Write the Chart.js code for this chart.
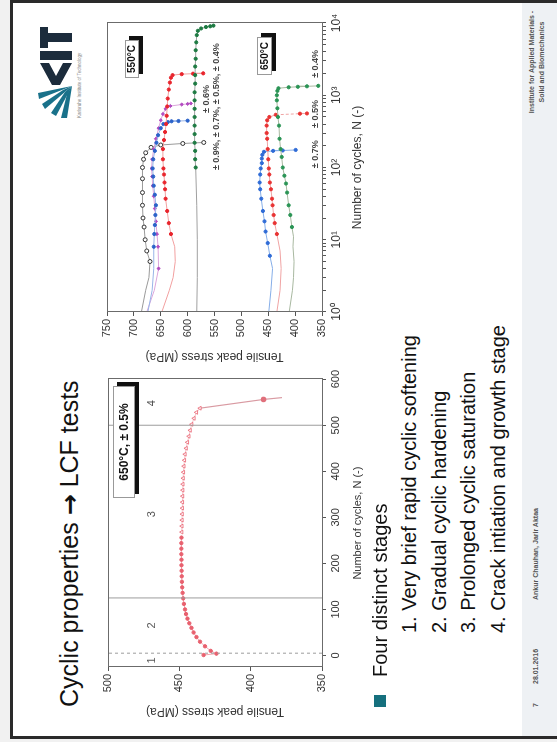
<!DOCTYPE html>
<html>
<head>
<meta charset="utf-8">
<title>Cyclic properties - LCF tests</title>
<script src="https://cdn.jsdelivr.net/npm/chart.js@4.4.1/dist/chart.umd.min.js"></script>
<style>
  html, body { margin: 0; padding: 0; }
  body { width: 557px; height: 742px; overflow: hidden; background: #f1f1f1; position: relative;
         font-family: "Liberation Sans", Arial, sans-serif; }
  /* the slide is built in landscape and turned a quarter turn */
  #slide { position: absolute; left: 0; top: 0; width: 742px; height: 557px;
           transform-origin: 0 0; transform: translate(0, 742px) rotate(-90deg); background: #f1f1f1; }
  #frame { position: absolute; left: 3px; top: 10px; width: 733px; height: 560px;
           border: 3px solid #2a2a2a; border-bottom: none; background: #fff; }
  #footer { position: absolute; left: 6px; top: 522px; width: 733px; height: 40px; background: #eef1f4; }
  canvas { position: absolute; }
  .title { position: absolute; left: 35px; top: 57px; font-size: 25px; line-height: 25px; color: #111; white-space: nowrap; }
  .title .arr { font-family: "DejaVu Sans", sans-serif; font-weight: bold; }
  .bullet { position: absolute; left: 35px; top: 374px; width: 12px; height: 12px; background: #16707e; }
  .lead { position: absolute; left: 65px; top: 370px; font-size: 20px; line-height: 20px; color: #111; white-space: nowrap; }
  .items { position: absolute; left: 109px; top: 395px; font-size: 20px; line-height: 29.7px; color: #111; white-space: nowrap; }
  .box { position: absolute; background: #fff; border: 1px solid #999; box-shadow: 4px 4px 0 #111;
         font-weight: bold; color: #111; text-align: center; white-space: nowrap; }
  .foot { position: absolute; font-size: 7px; font-weight: bold; color: #555; white-space: nowrap; }
</style>
</head>
<body>
<div id="slide">
  <div id="frame"></div>
  <div id="footer"></div>

  <div class="title">Cyclic properties <span class="arr">&rarr;</span> LCF tests</div>

  <svg style="position:absolute;left:620px;top:36px" width="100" height="50" viewBox="0 0 100 50">
    <g fill="#19718a">
      <polygon points="36,36 4,31 4,25 28,31"/>
      <polygon points="36,36 6,20 9,15 30,29"/>
      <polygon points="36,36 13,9 18,6 32,27"/>
      <polygon points="36,36 23,3 29,2 34,26"/>
    </g>
    <g fill="#1c2c3c">
      <polygon points="59,4 59,13 46,20 59,27 59,36 37,24 37,16"/>
      <rect x="62" y="4" width="9" height="32"/>
      <rect x="74" y="4" width="21" height="8"/>
      <rect x="80" y="4" width="9" height="32"/>
    </g>
    <text x="4" y="45" font-size="4.5" fill="#888" font-family="Liberation Sans, Arial">Karlsruhe Institute of Technology</text>
  </svg>

  <canvas id="chartLeft" width="360" height="292" style="left:15px;top:95px"></canvas>
  <canvas id="chartRight" width="368" height="292" style="left:370px;top:95px"></canvas>

  <div class="box" style="left:244px;top:113px;width:110px;height:20px;line-height:20px;font-size:12px">650°C, ± 0.5%</div>
  <div class="box" style="left:664px;top:125px;width:36px;height:12px;line-height:12px;font-size:10px">550°C</div>
  <div class="box" style="left:667px;top:257px;width:36px;height:13px;line-height:13px;font-size:10px">650°C</div>

  <div class="bullet"></div>
  <div class="lead">Four distinct stages</div>
  <div class="items">
    1. Very brief rapid cyclic softening<br>
    2. Gradual cyclic hardening<br>
    3. Prolonged cyclic saturation<br>
    4. Crack intiation and growth stage
  </div>

  <div class="foot" style="left:35px;top:532px">7</div>
  <div class="foot" style="left:58px;top:532px">28.01.2016</div>
  <div class="foot" style="left:142px;top:532px">Ankur Chauhan, Jarir Aktaa</div>
  <div class="foot" style="left:628px;top:527px;width:104px;text-align:center;line-height:10px">Institute for Applied Materials -<br>Solid and Biomechanics</div>
</div>

<script>
// ---- left chart: 650 °C, ± 0.5 % ----
const cycleTicks = [0, 100, 200, 300, 400, 500, 600];
const stressTicksLeft = [350, 400, 450, 500];
const stageBounds = [5, 125, 500];
const stageText = ['1', '2', '3', '4'];
const stageN = [-11, 65, 307, 548];
const stageS = [469, 469, 469, 469];

// filled circles (stages 1 and 2)
const cyclesA = [1, 4, 10, 20, 30, 40, 50, 60, 70, 80, 90, 100, 112, 124, 136, 148, 160, 172, 184, 196, 208, 220, 232, 244, 256];
const stressA = [433, 424, 428, 432, 435.5, 438, 440, 441.5, 443, 444.3, 445.3, 446, 446.8, 447.3, 447.7, 448, 448.2, 448.3, 448.4, 448.5, 448.5, 448.6, 448.6, 448.6, 448.5];
// open triangles (stage 3)
const cyclesB = [268, 281, 294, 307, 320, 333, 346, 359, 372, 385, 398, 411, 424, 437, 450, 463, 476, 489, 502, 515, 528, 537];
const stressB = [448.3, 448.2, 448.1, 448, 447.9, 447.8, 447.7, 447.6, 447.5, 447.3, 447.1, 446.8, 446.4, 446, 445.2, 444.3, 443.3, 442.4, 441.3, 439.7, 438, 435.5];
// failure (stage 4)
const cyclesEnd = [537, 556, 560];
const stressEnd = [435.5, 391, 378];

// ---- right chart: 550 °C and 650 °C ----
const logTicks = [1, 10, 100, 1000, 10000];
const logMinor = [2, 3, 4, 5, 6, 7, 8, 9, 20, 30, 40, 50, 60, 70, 80, 90, 200, 300, 400, 500, 600, 700, 800, 900, 2000, 3000, 4000, 5000, 6000, 7000, 8000, 9000];
const stressTicksRight = [350, 400, 450, 500, 550, 600, 650, 700, 750];

const n550a = [1, 2, 3, 5, 7, 10, 15, 20, 30, 45, 70, 100, 130, 160, 190, 205, 215, 222];            // ± 0.9 %
const s550a = [686, 678, 672, 670, 676, 679, 681, 683, 684, 684, 684, 684, 682, 678, 668, 650, 609, 570];
const n550b = [1, 2, 4, 8, 12, 16, 22, 30, 42, 56, 75, 97, 130, 170, 220, 280, 350, 400, 425, 436, 440, 445]; // ± 0.7 %
const s550b = [674, 666, 663, 663, 662, 661, 660, 659, 661, 663, 664, 665, 664, 661, 658, 655, 650, 645, 637, 630, 617, 600];
const n550c = [1, 2, 4, 8, 12, 18, 27, 40, 56, 75, 97, 130, 180, 250, 350, 450, 550, 650, 710, 745, 760, 770]; // ± 0.6 %
const s550c = [676, 662, 654, 655, 657, 659, 661, 663, 665, 666, 667, 666, 663, 659, 654, 650, 646, 641, 632, 611, 600, 594];
const n550d = [1, 2, 3, 5, 8, 12, 17, 25, 37, 50, 62, 80, 97, 130, 180, 240, 310, 400, 520, 700, 900, 1200, 1500, 1750, 1900, 1960, 1990, 2010]; // ± 0.5 %
const s550d = [648, 634, 627, 623, 624, 631, 635, 638, 641, 642, 643, 644, 645, 646, 646, 644, 642, 640, 639, 638, 637, 635, 633, 631, 628, 611, 590, 571];
const n550e = [1, 3, 10, 30, 100, 130, 170, 220, 290, 380, 500, 650, 850, 1100, 1450, 1900, 2500, 3200, 4200, 5400, 6800, 7800, 8400, 8800, 9000, 9200]; // ± 0.4 %
const s550e = [583, 582, 582, 583, 585, 586, 586, 587, 587, 587, 587, 587, 587, 587, 586, 586, 586, 585, 585, 584, 583, 581, 575, 566, 558, 552];

const n650a = [1, 2, 4, 6, 9, 13, 18, 25, 37, 50, 62, 80, 97, 115, 133, 150, 165, 170, 172, 175]; // ± 0.7 %
const s650a = [449, 445, 442, 447, 451, 455, 457, 460, 463, 465, 466, 465, 464, 462, 462, 461, 458, 441, 423, 399];
const n650b = [1, 2, 4, 7, 12, 17, 22, 30, 37, 50, 62, 80, 97, 130, 180, 250, 300, 380, 450, 500, 537, 556, 560]; // ± 0.5 %
const s650b = [434, 428, 426, 428, 434, 438, 440, 442, 443, 445, 447, 448, 449, 450, 451, 452, 453, 453, 452, 448, 436, 391, 378];
const n650c = [1, 2, 3, 5, 8, 11, 15, 22, 30, 45, 60, 77, 100, 140, 180, 250, 380, 500, 660, 850, 1000, 1150, 1250, 1290, 1310, 1330, 1350]; // ± 0.4 %
const s650c = [411, 405, 403, 402, 404, 403, 406, 409, 412, 415, 417, 420, 423, 425, 427, 429, 430, 432, 433, 434, 434, 433, 431, 412, 395, 378, 357];

const noteText = ['± 0.9%, ± 0.7%, ± 0.5%, ± 0.4%', '± 0.6%', '± 0.7%', '± 0.5%', '± 0.4%'];
const noteN = [92, 568, 98, 352, 1740];
const noteS = [546, 565, 362, 362, 362];

function pts(xs, ys) {
    return xs.map((x, i) => ({ x: x, y: ys[i] }));
}

// frame round the plot area
const framePlugin = {
    id: 'frame',
    afterDraw(chart) {
        const a = chart.chartArea, ctx = chart.ctx;
        ctx.save();
        ctx.strokeStyle = '#6b6b6b';
        ctx.lineWidth = 1;
        ctx.strokeRect(Math.round(a.left) + 0.5, Math.round(a.top) + 0.5, Math.round(a.right - a.left), Math.round(a.bottom - a.top));
        ctx.restore();
    }
};

// text placed at data positions
function textPlugin(id, texts, xs, ys, font, color, align) {
    return {
        id: id,
        afterDatasetsDraw(chart) {
            const ctx = chart.ctx, sx = chart.scales.x, sy = chart.scales.y;
            ctx.save();
            ctx.font = font;
            ctx.fillStyle = color;
            ctx.textAlign = align;
            ctx.textBaseline = 'middle';
            texts.forEach((t, i) => ctx.fillText(t, sx.getPixelForValue(xs[i]), sy.getPixelForValue(ys[i])));
            ctx.restore();
        }
    };
}

var axisFont = { family: '"Liberation Sans", Arial, sans-serif', size: 11 };
var titleFont = { family: '"Liberation Sans", Arial, sans-serif', size: 12 };

// Left chart
var stageSets = stageBounds.map((b, i) => ({
    data: pts([b, b], [350, 500]),
    showLine: true,
    borderColor: '#9c9c9c',
    borderWidth: 1,
    borderDash: i === 0 ? [3, 3] : [],
    pointRadius: 0
}));

new Chart(document.getElementById('chartLeft'), {
    type: 'scatter',
    data: {
        datasets: stageSets.concat([
            {
                data: pts(cyclesA, stressA), showLine: true,
                borderColor: '#f2a7b0', borderWidth: 1,
                pointRadius: 1.7, pointBackgroundColor: '#e8606e', pointBorderColor: '#e8606e', pointBorderWidth: 1
            },
            {
                data: pts(cyclesB, stressB), showLine: true,
                borderColor: '#f5c0c6', borderWidth: 1,
                pointStyle: 'triangle', pointRadius: 2.2,
                pointBackgroundColor: '#ffffff', pointBorderColor: '#e8606e', pointBorderWidth: 0.8
            },
            {
                data: pts(cyclesEnd, stressEnd), showLine: true,
                borderColor: '#d99aa2', borderWidth: 1.2,
                pointRadius: [0, 2.2, 0], pointBackgroundColor: '#e0707c', pointBorderColor: '#e0707c'
            }
        ])
    },
    options: {
        responsive: false,
        animation: false,
        layout: { padding: { top: 13, right: 11, left: 0, bottom: 0 } },
        plugins: { legend: { display: false }, tooltip: { enabled: false } },
        scales: {
            x: {
                type: 'linear', min: -25, max: 600,
                afterFit: s => { s.height = 65; },
                afterBuildTicks: s => { s.ticks = cycleTicks.map(v => ({ value: v })); },
                grid: { drawOnChartArea: false, tickLength: 4, color: '#555' },
                border: { color: '#555' },
                ticks: { font: axisFont, color: '#333', padding: 3, maxRotation: 0, autoSkip: false },
                title: { display: true, text: 'Number of cycles, N (-)', font: axisFont, color: '#333', padding: { top: 0, bottom: 22 } }
            },
            y: {
                type: 'linear', min: 350, max: 500,
                afterFit: s => { s.width = 60; },
                afterBuildTicks: s => { s.ticks = stressTicksLeft.map(v => ({ value: v })); },
                grid: { drawOnChartArea: false, tickLength: 4, color: '#555' },
                border: { color: '#555' },
                ticks: { font: axisFont, color: '#333', padding: 3 },
                title: { display: true, text: 'Tensile peak stress (MPa)', font: titleFont, color: '#333', padding: { top: 8, bottom: 0 } }
            }
        }
    },
    plugins: [framePlugin, textPlugin('stages', stageText, stageN, stageS, '11px "Liberation Sans", Arial', '#555', 'center')]
});

// Right chart
function series(xs, ys, line, mark, from, style, hollow) {
    return {
        data: pts(xs, ys),
        showLine: true,
        borderColor: line,
        borderWidth: 1,
        pointStyle: style || 'circle',
        pointRadius: c => (c.raw && c.raw.x >= from ? (hollow ? 2 : 1.6) : 0),
        pointBackgroundColor: hollow ? '#ffffff' : mark,
        pointBorderColor: mark,
        pointBorderWidth: 1
    };
}

var sets650b = series(n650b, s650b, '#f0a4a4', '#e83232', 10);
sets650b.segment = { borderDash: c => (c.p1DataIndex >= n650b.length - 2 ? [3, 2] : undefined) };

new Chart(document.getElementById('chartRight'), {
    type: 'scatter',
    data: {
        datasets: [
            series(n550e, s550e, '#a0a0a0', '#1d7a42', 100),
            series(n550d, s550d, '#f2a0a0', '#e8242c', 10),
            series(n550b, s550b, '#98b4e8', '#2a62c9', 8),
            series(n550c, s550c, '#dca6dc', '#b24bc0', 4, 'rectRot'),
            series(n550a, s550a, '#9a9a9a', '#333333', 5, 'circle', true),
            series(n650c, s650c, '#a8b8a0', '#2a9455', 12),
            sets650b,
            series(n650a, s650a, '#86aee8', '#2f6bd6', 6)
        ]
    },
    options: {
        responsive: false,
        animation: false,
        layout: { padding: { top: 12, right: 19, left: 0, bottom: 0 } },
        plugins: { legend: { display: false }, tooltip: { enabled: false } },
        scales: {
            x: {
                type: 'logarithmic', min: 1, max: 10000,
                afterFit: s => { s.height = 65; },
                afterBuildTicks: s => { s.ticks = logTicks.concat(logMinor).sort((a, b) => a - b).map(v => ({ value: v })); },
                grid: { drawOnChartArea: false, tickLength: 4, color: '#555' },
                border: { color: '#555' },
                ticks: {
                    font: { family: '"Liberation Sans", Arial, sans-serif', size: 12 }, color: '#333', padding: 3,
                    maxRotation: 0, autoSkip: false,
                    callback: v => {
                        const i = logTicks.indexOf(v);
                        return i < 0 ? '' : '10' + ['⁰', '¹', '²', '³', '⁴'][i];
                    }
                },
                title: { display: true, text: 'Number of cycles, N (-)', font: titleFont, color: '#333', padding: { top: 0, bottom: 22 } }
            },
            y: {
                type: 'linear', min: 350, max: 750,
                afterFit: s => { s.width = 60; },
                afterBuildTicks: s => { s.ticks = stressTicksRight.map(v => ({ value: v })); },
                grid: { drawOnChartArea: false, tickLength: 4, color: '#555' },
                border: { color: '#555' },
                ticks: { font: axisFont, color: '#333', padding: 3 },
                title: { display: true, text: 'Tensile peak stress (MPa)', font: titleFont, color: '#333', padding: { top: 8, bottom: 0 } }
            }
        }
    },
    plugins: [framePlugin, textPlugin('strains', noteText, noteN, noteS, 'bold 9px "Liberation Sans", Arial', '#444', 'left')]
});
</script>
</body>
</html>
